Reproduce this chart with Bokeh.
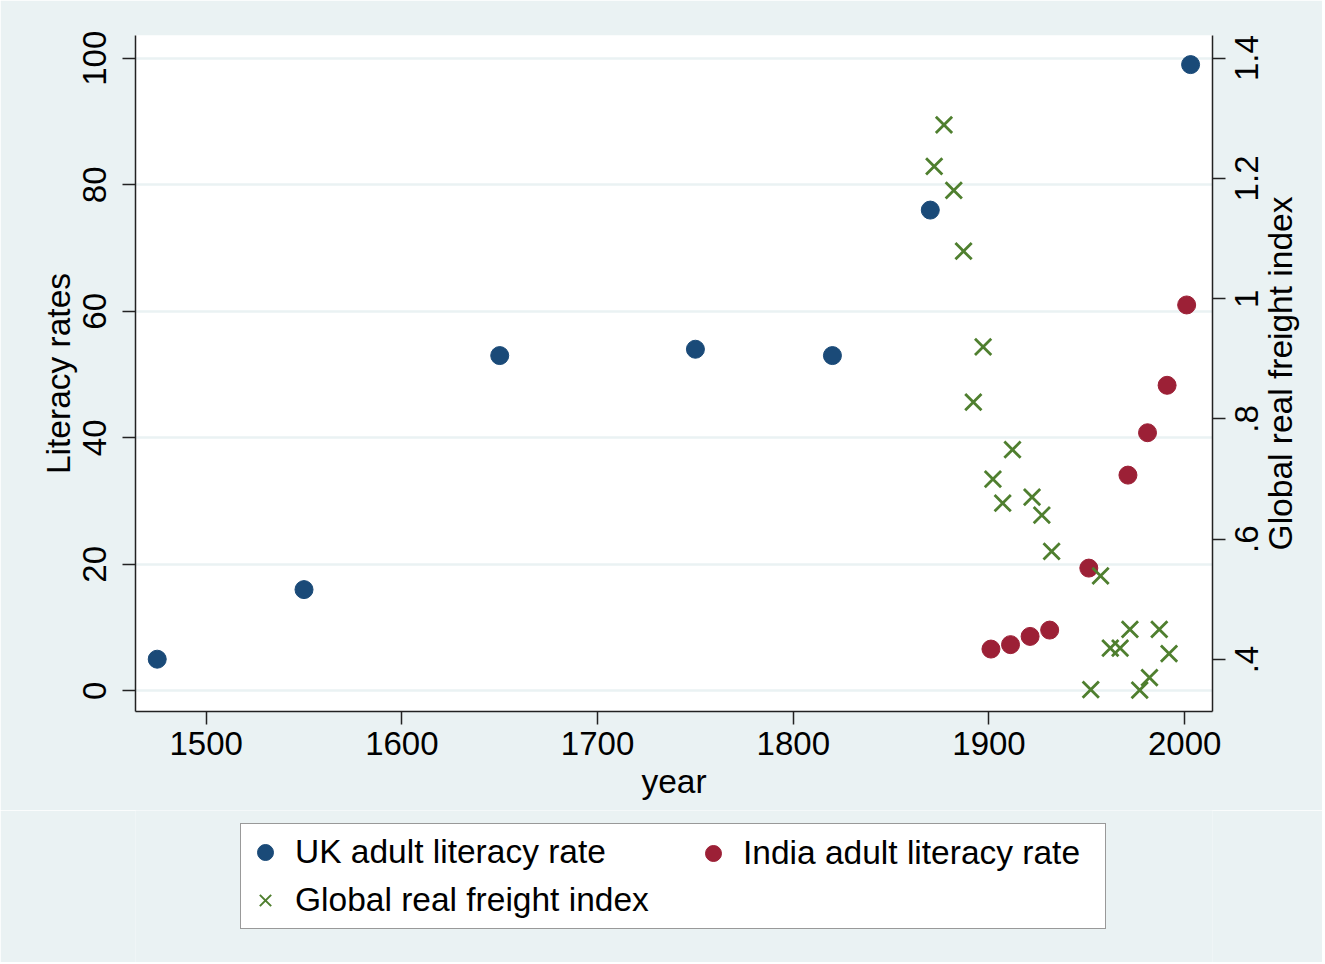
import math
from bokeh.plotting import figure
from bokeh.layouts import column
from bokeh.models import (Range1d, LinearAxis, FixedTicker, CustomJSTickFormatter,
                          Legend, LegendItem)
from bokeh.embed import file_html
from bokeh.resources import INLINE

# ---- data ----
uk_year = [1475, 1550, 1650, 1750, 1820, 1870, 2003]
uk_lit = [5.0, 16.0, 53.0, 54.0, 53.0, 76.0, 99.0]

india_year = [1901, 1911, 1921, 1931, 1951, 1971, 1981, 1991, 2001]
india_lit = [6.6, 7.3, 8.6, 9.6, 19.4, 34.1, 40.8, 48.3, 61.0]

freight_year = [1872, 1877, 1882, 1887, 1892, 1897, 1902, 1907, 1912, 1922, 1927,
                1932, 1952, 1957, 1962, 1967, 1972, 1977, 1982, 1987, 1992]
freight_idx = [1.220, 1.289, 1.180, 1.079, 0.828, 0.920, 0.700, 0.660, 0.749, 0.670,
               0.640, 0.580, 0.350, 0.539, 0.419, 0.419, 0.450, 0.349, 0.370, 0.450, 0.410]

x_ticks = [1500, 1600, 1700, 1800, 1900, 2000]
left_ticks = [0, 20, 40, 60, 80, 100]
right_ticks = [0.4, 0.6, 0.8, 1.0, 1.2, 1.4]
right_tick_labels = [".4", ".6", ".8", "1", "1.2", "1.4"]

labels = ["UK adult literacy rate", "India adult literacy rate", "Global real freight index"]
x_title = "year"
left_title = "Literacy rates"
right_title = "Global real freight index"

# ---- style / layout ----
BG = "#EAF2F3"
NAVY = "#1a4a78"
MAROON = "#9c2036"
GREEN = "#4f7f2f"
AXIS = "#222222"
FONT = "Liberation Sans"
TICK_FS = 33
TITLE_FS = 33.5

W, H1, H2 = 1322, 810, 152
B_LEFT, B_TOP, B_RIGHT, B_BOTTOM = 135, 35, 110, 99
FRAME_H = H1 - B_TOP - B_BOTTOM

X0, X1 = 1463.9, 2014.2
Y0, Y1 = -3.27, 103.6
R0, R1 = 0.3136, 1.4377
units_per_px = (R1 - R0) / FRAME_H

# Liberation Sans advance widths (em) used to centre rotated right-hand texts
_w = {"0": .556, "1": .556, "2": .556, "3": .556, "4": .556, "5": .556, "6": .556,
      "7": .556, "8": .556, "9": .556, ".": .278, " ": .278, "G": .778, "l": .222,
      "o": .556, "b": .556, "a": .556, "r": .333, "e": .556, "f": .278, "i": .222,
      "g": .556, "h": .556, "t": .278, "n": .556, "d": .556, "x": .5}


def text_px(s, fs):
    return sum(_w.get(c, .556) for c in s) * fs


p = figure(width=W, height=H1, output_backend="svg", toolbar_location=None,
           x_range=Range1d(X0, X1), y_range=Range1d(Y0, Y1),
           min_border_left=B_LEFT, min_border_right=B_RIGHT, min_border_top=B_TOP,
           min_border_bottom=B_BOTTOM)
p.extra_y_ranges = {"freight": Range1d(R0, R1)}

p.background_fill_color = "white"
p.border_fill_color = BG
p.outline_line_color = None


def style(ax, standoff, title_standoff=0):
    ax.axis_line_color = AXIS
    ax.axis_line_width = 1.5
    ax.major_tick_line_color = AXIS
    ax.major_tick_line_width = 1.5
    ax.major_tick_out = 13
    ax.major_tick_in = 0
    ax.minor_tick_line_color = None
    ax.major_label_text_font = FONT
    ax.major_label_text_font_size = f"{TICK_FS}px"
    ax.major_label_text_color = "black"
    ax.axis_label_text_font = FONT
    ax.axis_label_text_font_size = f"{TITLE_FS}px"
    ax.axis_label_text_font_style = "normal"
    ax.axis_label_text_color = "black"
    ax.major_label_standoff = standoff
    ax.axis_label_standoff = title_standoff


# x axis
xa = p.xaxis[0]
xa.ticker = FixedTicker(ticks=x_ticks)
xa.axis_label = x_title
style(xa, 7, 5)

# left axis
ya = p.yaxis[0]
ya.ticker = FixedTicker(ticks=left_ticks)
ya.axis_label = left_title
ya.major_label_orientation = "vertical"
style(ya, 16, 4)

# right axis: line, tick marks (drawn as the ticker's minor ticks at the real values)
# and tick labels rotated to read bottom-to-top, centred on those tick marks
shifted = [t - 0.5 * text_px(s, TICK_FS) * units_per_px
           for t, s in zip(right_ticks, right_tick_labels)]
ra = LinearAxis(y_range_name="freight",
                ticker=FixedTicker(ticks=shifted, minor_ticks=right_ticks),
                formatter=CustomJSTickFormatter(args=dict(labs=right_tick_labels),
                                                code="return labs[index];"))
style(ra, 21)
ra.major_tick_line_color = None
ra.major_tick_out = 0
ra.minor_tick_line_color = AXIS
ra.minor_tick_line_width = 1.5
ra.minor_tick_out = 13
ra.minor_tick_in = 0
ra.major_label_orientation = math.pi / 2
p.add_layout(ra, "right")

# right-hand title, read bottom-to-top
mid = 0.5 * (R0 + R1)
title_start = mid - 0.5 * text_px(right_title, TITLE_FS) * units_per_px
rt = LinearAxis(y_range_name="freight", ticker=FixedTicker(ticks=[title_start]),
                formatter=CustomJSTickFormatter(args=dict(t=right_title),
                                                code="return t;"))
style(rt, 8)
rt.axis_line_color = None
rt.major_tick_line_color = None
rt.major_tick_out = 0
rt.major_label_text_font_size = f"{TITLE_FS}px"
rt.major_label_orientation = math.pi / 2
p.add_layout(rt, "right")

p.xgrid.grid_line_color = None
p.ygrid.ticker = FixedTicker(ticks=left_ticks)
p.ygrid.grid_line_color = BG
p.ygrid.grid_line_width = 2.5

p.scatter(uk_year, uk_lit, marker="circle", size=18, fill_color=NAVY, line_color=NAVY)
p.scatter(india_year, india_lit, marker="circle", size=18, fill_color=MAROON,
          line_color=MAROON)
p.scatter(freight_year, freight_idx, marker="x", size=23, line_color=GREEN,
          line_width=2.8, y_range_name="freight")

# ---- legend panel: a second figure below the plot (its series lie outside its view) ----
p2 = figure(width=W, height=H2, output_backend="svg", toolbar_location=None,
            x_range=Range1d(0, 1), y_range=Range1d(0, 1),
            x_axis_type=None, y_axis_type=None,
            min_border_left=B_LEFT, min_border_right=B_RIGHT, min_border_top=0,
            min_border_bottom=0)
p2.background_fill_color = BG
p2.background_fill_alpha = 1.0
p2.border_fill_color = BG
p2.outline_line_color = None
p2.grid.visible = False

k_uk = p2.scatter(uk_year, uk_lit, marker="circle", size=18, fill_color=NAVY,
                  line_color=NAVY)
k_in = p2.scatter(india_year, india_lit, marker="circle", size=18, fill_color=MAROON,
                  line_color=MAROON)
k_fr = p2.scatter(freight_year, freight_idx, marker="x", size=23, line_color=GREEN,
                  line_width=2)

common = dict(label_text_font=FONT, label_text_font_size=f"{TITLE_FS}px",
              label_text_color="black", glyph_width=40, glyph_height=40,
              label_standoff=10, margin=0)

leg_a = Legend(items=[LegendItem(label=labels[0], renderers=[k_uk]),
                      LegendItem(label=labels[2], renderers=[k_fr])],
               location=(105, 33), orientation="vertical", label_width=806,
               label_height=48, spacing=0, padding=4,
               border_line_color="#333333", border_line_width=1.5,
               background_fill_color="white", background_fill_alpha=1.0, **common)
leg_b = Legend(items=[LegendItem(label=labels[1], renderers=[k_in])],
               location=(558, 89), orientation="vertical", padding=0,
               spacing=0, border_line_alpha=0, background_fill_alpha=0, **common)
p2.add_layout(leg_a, "center")
p2.add_layout(leg_b, "center")

layout = column(p, p2, spacing=0)
open("out.html", "w").write(file_html(layout, INLINE))
